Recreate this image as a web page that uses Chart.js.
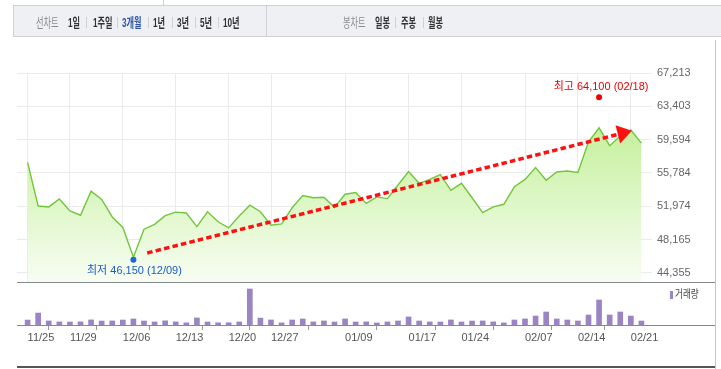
<!DOCTYPE html>
<html>
<head>
<meta charset="utf-8">
<script src="https://cdn.jsdelivr.net/npm/chart.js@4"></script>
<style>
  html, body { margin: 0; padding: 0; background: #fff; }
  body { width: 721px; height: 369px; position: relative; overflow: hidden;
         font-family: "Liberation Sans", "Noto Sans CJK KR", sans-serif; }
  canvas { position: absolute; left: 0; top: 0; }
  .ln { position: absolute; }
  #tabs { position: absolute; left: 13px; top: 5px; width: 708px; height: 32px; box-sizing: border-box;
          background: #eff0f4; border: 1px solid #cfd1d6; border-right: none; }
  .tab { position: absolute; top: 15px; font-size: 13px; line-height: 15px; white-space: nowrap;
         transform: scaleX(0.63); transform-origin: left center; font-weight: bold; color: #333; }
  .tab.dim { font-weight: normal; color: #8a8a8a; }
  .tab.on { color: #2f55a8; }
  .sep { position: absolute; top: 17px; width: 1px; height: 11px; background: #cfd1d6; }
  #legend { position: absolute; left: 675px; top: 288px; font-size: 11px; line-height: 13px; color: #444;
            transform: scaleX(0.78); transform-origin: left center; white-space: nowrap; }
</style>
</head>
<body>
<div class="ln" style="left:163px;top:0;width:1px;height:5px;background:#d0d0d0"></div>
<div id="tabs"></div>
<div class="ln" style="left:266px;top:5px;width:1px;height:32px;background:#cfd1d6"></div>

<canvas id="priceChart" width="721" height="369"></canvas>
<canvas id="volChart" width="721" height="369"></canvas>

<div class="ln" style="left:17px;top:282px;width:698px;height:1px;background:#878c92"></div>
<div class="ln" style="left:17px;top:325px;width:698px;height:1px;background:#8a8a8a"></div>
<div class="ln" style="left:17px;top:366px;width:698px;height:2px;background:#555"></div>
<div class="ln" style="left:715px;top:40px;width:1px;height:329px;background:#c4c4c4"></div>
<div class="ln" style="left:670px;top:291px;width:3px;height:8px;background:#9b84c4"></div>
<div id="legend">거래량</div>

<script>
  // trading days shown on the chart
  const dates = [
    "11/25", "11/26", "11/27", "11/28", "11/29", "12/02", "12/03", "12/04", "12/05", "12/06",
    "12/09", "12/10", "12/11", "12/12", "12/13", "12/16", "12/17", "12/18", "12/19", "12/20",
    "12/23", "12/24", "12/26", "12/27", "12/30", "01/02", "01/03", "01/06", "01/07", "01/08",
    "01/09", "01/10", "01/13", "01/14", "01/15", "01/16", "01/17", "01/20", "01/21", "01/22",
    "01/23", "01/24", "01/31", "02/03", "02/04", "02/05", "02/06", "02/07", "02/10", "02/11",
    "02/12", "02/13", "02/14", "02/17", "02/18", "02/19", "02/20", "02/21", "02/24",
  ];

  // closing price
  const prices = [
    57000, 52000, 51900, 52800, 51450, 50950, 53700, 52750, 50750, 49550,
    46150, 49350, 49900, 50900, 51300, 51200, 49650, 51350, 50200, 49500,
    50850, 52100, 51350, 49800, 49950, 51800, 53200, 52950, 53000, 51850,
    53350, 53550, 52300, 53050, 52850, 54400, 55950, 54600, 55050, 55600,
    53800, 54600, 52950, 51250, 51900, 52200, 54200, 55050, 56400, 54950,
    55900, 56000, 55850, 59350, 60950, 58900, 60000, 60700, 59200,
  ];

  // volume (thousand shares)
  const volumes = [
    1540, 3720, 1260, 960, 930, 980, 1580, 1230, 1270, 1550,
    1880, 1240, 950, 1290, 970, 680, 2190, 940, 690, 700,
    950, 11200, 2150, 1570, 660, 1560, 1870, 960, 1260, 930,
    1880, 950, 970, 640, 960, 1250, 2510, 1240, 960, 930,
    1570, 940, 1230, 1260, 970, 650, 1560, 1890, 2800, 4040,
    1870, 1560, 1250, 3110, 7780, 3120, 4050, 2790, 1240,
  ];

  const tickDates = ["11/25", "11/29", "12/06", "12/13", "12/20", "12/27",
                     "01/09", "01/17", "01/24", "02/07", "02/14", "02/21"];
  const yTicks = [44355, 48165, 51974, 55784, 59594, 63403, 67213];

  const high = { date: "02/18", value: 64100 };
  const low = { date: "12/09", value: 46150 };
  // trend arrow, in (day index, price)
  const trendFrom = [11.3, 46630];
  const trendTo = [57.1, 60600];

  const tickIdx = tickDates.map((d) => dates.indexOf(d));

  // tab bar
  const tabs = [
    ["선차트", 36, "dim"], ["1일", 68.3], ["1주일", 92.7], ["3개월", 122.3, "on"],
    ["1년", 153.3], ["3년", 176.7], ["5년", 200], ["10년", 222.7],
    ["봉차트", 343.3, "dim"], ["일봉", 375.3], ["주봉", 401], ["월봉", 428.3],
  ];
  const seps = [86, 117.3, 148.3, 171.7, 195, 218.3, 395.3, 423.3];
  tabs.forEach(([t, x, cls]) => {
    const s = document.createElement("span");
    s.className = "tab" + (cls ? " " + cls : "");
    s.textContent = t;
    s.style.left = x + "px";
    document.body.appendChild(s);
  });
  seps.forEach((x) => {
    const d = document.createElement("div");
    d.className = "sep";
    d.style.left = x + "px";
    document.body.appendChild(d);
  });

  const FONT = "'Liberation Sans', 'Noto Sans CJK KR', sans-serif";
  const fmt = (v) => v.toLocaleString("en-US");
  const setTicks = (vals) => (scale) => {
    scale.ticks = vals.map((v) => ({ value: v }));
  };

  const marks = {
    id: "marks",
    afterDatasetsDraw(chart) {
      const { ctx, scales: { x, y } } = chart;
      ctx.save();

      // dashed trend arrow
      const x0 = x.getPixelForValue(trendFrom[0]), y0 = y.getPixelForValue(trendFrom[1]);
      const x1 = x.getPixelForValue(trendTo[0]), y1 = y.getPixelForValue(trendTo[1]);
      const len = Math.hypot(x1 - x0, y1 - y0);
      const ux = (x1 - x0) / len, uy = (y1 - y0) / len;
      const head = 14.5, half = 9.5;
      ctx.strokeStyle = "#ff1010";
      ctx.lineWidth = 3.5;
      ctx.setLineDash([5.5, 3.2]);
      ctx.beginPath();
      ctx.moveTo(x0, y0);
      ctx.lineTo(x1 - ux * (head - 1), y1 - uy * (head - 1));
      ctx.stroke();
      ctx.setLineDash([]);
      const bx = x1 - ux * head, by = y1 - uy * head;
      ctx.fillStyle = "#ff1010";
      ctx.beginPath();
      ctx.moveTo(x1, y1);
      ctx.lineTo(bx - uy * half, by + ux * half);
      ctx.lineTo(bx + uy * half, by - ux * half);
      ctx.closePath();
      ctx.fill();

      // high / low markers
      ctx.font = "11px " + FONT;
      ctx.textAlign = "center";
      ctx.textBaseline = "middle";
      const hx = x.getPixelForValue(dates.indexOf(high.date));
      const hy = y.getPixelForValue(high.value) - 3;
      ctx.fillStyle = "#f00000";
      ctx.beginPath();
      ctx.arc(hx, hy, 3, 0, Math.PI * 2);
      ctx.fill();
      ctx.fillText("최고 " + fmt(high.value) + " (" + high.date + ")", hx + 2, hy - 10.6);

      const lx = x.getPixelForValue(dates.indexOf(low.date));
      const ly = y.getPixelForValue(low.value) + 2.5;
      ctx.fillStyle = "#1f66d6";
      ctx.beginPath();
      ctx.arc(lx, ly, 3, 0, Math.PI * 2);
      ctx.fill();
      ctx.fillStyle = "#1a5cc8";
      ctx.fillText("최저 " + fmt(low.value) + " (" + low.date + ")", lx + 1, ly + 10.8);
      ctx.restore();
    },
  };

  new Chart(document.getElementById("priceChart"), {
    type: "line",
    data: {
      datasets: [
        {
          data: prices.map((p, i) => ({ x: i, y: p })),
          borderColor: "#72c63c",
          borderWidth: 1.4,
          pointRadius: 0,
          tension: 0,
          fill: "start",
          backgroundColor: (c) => {
            const a = c.chart.chartArea;
            if (!a) return "rgba(200,240,160,0.5)";
            const g = c.chart.ctx.createLinearGradient(0, a.top, 0, a.bottom);
            g.addColorStop(0, "#b9ec8c");
            g.addColorStop(0.3, "#c8f1a2");
            g.addColorStop(1, "#f8fdf3");
            return g;
          },
        },
      ],
    },
    options: {
      responsive: false,
      animation: false,
      layout: { padding: { left: 17, top: 73, right: 0, bottom: 86 } },
      plugins: { legend: { display: false }, tooltip: { enabled: false } },
      scales: {
        x: {
          type: "linear",
          min: -1,
          max: 59,
          afterBuildTicks: setTicks(tickIdx),
          afterFit: (s) => { s.height = 0; },
          ticks: { display: false },
          grid: { color: "#ebebeb", drawTicks: false },
          border: { display: false },
        },
        y: {
          position: "right",
          min: 43200,
          max: 67213,
          afterBuildTicks: setTicks(yTicks),
          afterFit: (s) => { s.width = 69; },
          ticks: { padding: 5, color: "#666", font: { size: 11, family: FONT }, callback: (v) => fmt(v) },
          grid: { color: "#ebebeb", drawTicks: false },
          border: { display: false },
        },
      },
    },
    plugins: [marks],
  });

  new Chart(document.getElementById("volChart"), {
    type: "bar",
    data: {
      datasets: [
        {
          data: volumes.map((v, i) => ({ x: i, y: v })),
          backgroundColor: "#9b84c4",
          barThickness: 5,
        },
      ],
    },
    options: {
      responsive: false,
      animation: false,
      layout: { padding: { left: 17, top: 283, right: 69, bottom: 24 } },
      plugins: { legend: { display: false }, tooltip: { enabled: false } },
      scales: {
        x: {
          type: "linear",
          min: -1,
          max: 59,
          offset: false,
          afterBuildTicks: setTicks(tickIdx),
          afterFit: (s) => { s.height = 20; },
          ticks: {
            align: "start",
            autoSkip: false,
            maxRotation: 0,
            padding: 1,
            color: "#555",
            font: { size: 11, family: FONT },
            callback: (v) => dates[v],
          },
          grid: { drawOnChartArea: false, drawTicks: true, tickLength: 5, color: "#999" },
          border: { display: false },
        },
        y: { display: false, min: 0, max: 13070 },
      },
    },
  });
</script>
</body>
</html>
